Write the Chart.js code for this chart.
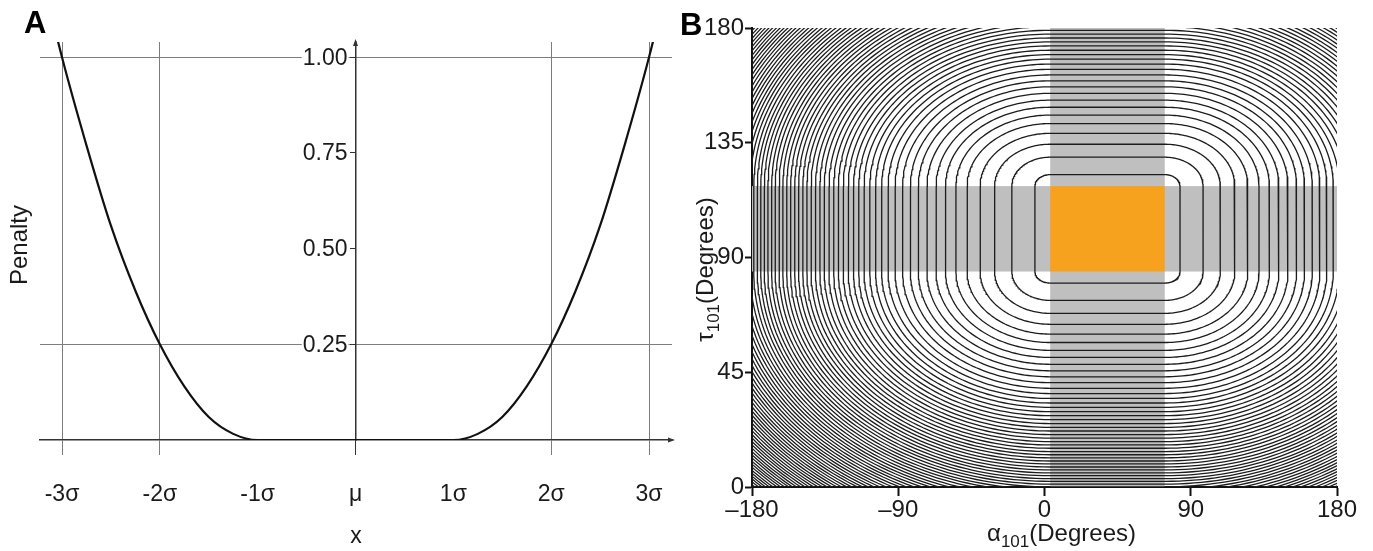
<!DOCTYPE html>
<html>
<head>
<meta charset="utf-8">
<title>Flat-bottom restraint penalty</title>
<script src="https://cdn.jsdelivr.net/npm/chart.js@4.4.1/dist/chart.umd.min.js"></script>
<style>
  html, body { margin: 0; padding: 0; background: #fff; }
  #wrap { position: relative; width: 1373px; height: 551px; }
  .panel { position: absolute; top: 0; height: 551px; }
  #panelA { left: 0; width: 680px; }
  #panelB { left: 680px; width: 693px; }
</style>
</head>
<body>
<div id="wrap">
  <div class="panel" id="panelA"><canvas id="penaltyChart"></canvas></div>
  <div class="panel" id="panelB"><canvas id="contourChart"></canvas></div>
</div>
<script>
// --- panel A: penalty vs. deviation (x in units of sigma) ---
const penaltyX = [-3.2, -3.0, -2.75, -2.5, -2.25, -2.0, -1.75, -1.5, -1.25, -1.0,
                  1.0, 1.25, 1.5, 1.75, 2.0, 2.25, 2.5, 2.75, 3.0, 3.2];
const penaltyY = [1.21, 1.0, 0.77, 0.56, 0.39, 0.25, 0.14, 0.06, 0.016, 0,
                  0, 0.016, 0.06, 0.14, 0.25, 0.39, 0.56, 0.77, 1.0, 1.21];
const sigmaTicks = [-3, -2, -1, 0, 1, 2, 3];
const sigmaLabels = ['-3σ', '-2σ', '-1σ', 'μ', '1σ', '2σ', '3σ'];
const penaltyTicks = [0.25, 0.5, 0.75, 1.0];
const penaltyLabels = ['0.25', '0.50', '0.75', '1.00'];

// --- panel B: alpha/tau restraint energy contours ---
const alphaTicks = [-180, -90, 0, 90, 180];
const alphaLabels = ['–180', '–90', '0', '90', '180'];
const tauTicks = [0, 45, 90, 135, 180];
const boxAlpha = [3.5, 74];      // allowed alpha window (deg)
const boxTau = [84.5, 118];      // allowed tau window (deg)
// distance of each contour from the window edge along alpha (deg), innermost first;
// the ones past 183 only show up in the corners of the plot
const contourAlphaOffset = [9.4, 23.6, 34.2, 43.1, 51.1, 58.0, 64.4, 70.2, 75.8, 81.1,
  86.0, 90.8, 95.4, 99.7, 103.7, 107.4, 111.0, 114.5, 117.8, 121.0,
  124.2, 127.3, 130.3, 133.2, 136.1, 139.0, 141.7, 144.4, 147.1, 149.7,
  152.2, 154.8, 157.2, 159.7, 162.1, 164.5, 166.8, 169.2, 171.4, 173.7,
  175.9, 178.1, 180.2, 182.4, 184.6, 186.7, 188.8, 190.8, 192.9, 194.9,
  196.9, 198.9, 200.9, 202.9, 204.8, 206.7, 208.6, 210.5, 212.3, 214.2,
  216.0, 217.8, 219.6, 221.4, 223.2, 224.9, 226.7, 228.4, 230.1, 231.8,
  233.5, 235.2, 236.9, 238.5, 240.2, 241.8, 243.4, 245.1, 246.7, 248.3,
  249.8, 251.4, 253.0, 254.5];
const tauPerAlpha = 0.48;        // tau distance per degree of alpha distance on one contour

const FONT = '"Liberation Sans", Arial, Helvetica, sans-serif';
const textColor = '#1a1a1a';
const gridGray = '#7d7d7d';
const axisDark = '#333';
const clear = 'rgba(0,0,0,0)';
Chart.defaults.font.family = FONT;
Chart.defaults.color = textColor;

// arrow heads on the two axes of panel A, the penalty labels left of the
// centred axis (white box behind each so the grid line stops at the text)
// and the y title
const centredAxisDecor = {
  id: 'centredAxisDecor',
  afterDraw(chart) {
    const {ctx, chartArea: ca, scales} = chart;
    const x0 = scales.x.getPixelForValue(0);
    ctx.save();
    ctx.fillStyle = axisDark;
    ctx.beginPath();
    ctx.moveTo(x0, ca.top - 3);
    ctx.lineTo(x0 - 2.5, ca.top + 4);
    ctx.lineTo(x0 + 2.5, ca.top + 4);
    ctx.closePath();
    ctx.fill();
    ctx.beginPath();
    ctx.moveTo(ca.right + 3, ca.bottom);
    ctx.lineTo(ca.right - 4, ca.bottom - 2.5);
    ctx.lineTo(ca.right - 4, ca.bottom + 2.5);
    ctx.closePath();
    ctx.fill();

    ctx.font = '23px ' + FONT;
    ctx.textAlign = 'right';
    ctx.textBaseline = 'middle';
    penaltyTicks.forEach((v, i) => {
      const y = scales.y.getPixelForValue(v);
      const xr = x0 - 8;
      const w = ctx.measureText(penaltyLabels[i]).width;
      ctx.fillStyle = '#fff';
      ctx.fillRect(xr - w - 1, y - 9, w + 2, 18);
      ctx.fillStyle = textColor;
      ctx.fillText(penaltyLabels[i], xr, y + 1);
    });

    ctx.font = '24px ' + FONT;
    ctx.textAlign = 'center';
    ctx.translate(20, (ca.top + ca.bottom) / 2 + 4);
    ctx.rotate(-Math.PI / 2);
    ctx.fillText('Penalty', 0, 0);
    ctx.restore();
  }
};

function panelLetter(letter, x, y) {
  return {
    id: 'letter' + letter,
    afterDraw(chart) {
      const ctx = chart.ctx;
      ctx.save();
      ctx.font = 'bold 31px ' + FONT;
      ctx.fillStyle = '#000';
      ctx.textBaseline = 'alphabetic';
      ctx.fillText(letter, x, y);
      ctx.restore();
    }
  };
}

new Chart(document.getElementById('penaltyChart'), {
  type: 'scatter',
  data: {
    datasets: [{
      data: penaltyX.map((x, i) => ({x, y: penaltyY[i]})),
      showLine: true,
      borderColor: '#111',
      borderWidth: 2.2,
      pointRadius: 0,
      pointHoverRadius: 0,
      cubicInterpolationMode: 'monotone'
    }]
  },
  options: {
    animation: false,
    responsive: true,
    maintainAspectRatio: false,
    events: [],
    layout: {padding: {top: 42, right: 8, left: 40, bottom: 0}},
    plugins: {legend: {display: false}, tooltip: {enabled: false}},
    scales: {
      x: {
        type: 'linear',
        position: 'bottom',
        min: -3.225,
        max: 3.235,
        afterBuildTicks: s => { s.ticks = sigmaTicks.map(v => ({value: v})); },
        afterFit: s => { s.height = 111; s.paddingLeft = 0; s.paddingRight = 0; },
        grid: {
          color: c => ([-1, 0, 1].includes(c.tick && c.tick.value) ? clear : gridGray),
          tickColor: c => {
            const v = c.tick && c.tick.value;
            if (v === 0) return axisDark;
            return (v === -1 || v === 1) ? clear : gridGray;
          },
          tickLength: 15,
          lineWidth: 1
        },
        border: {color: axisDark, width: 1.5},
        ticks: {
          callback: v => sigmaLabels[sigmaTicks.indexOf(v)],
          font: {size: 23},
          padding: 26,
          maxRotation: 0,
          autoSkip: false
        },
        title: {display: true, text: 'x', font: {size: 23}, padding: {top: 0, bottom: 1}}
      },
      y: {
        type: 'linear',
        position: {x: 0},
        min: 0,
        max: 1.04,
        afterBuildTicks: s => { s.ticks = penaltyTicks.map(v => ({value: v})); },
        afterFit: s => { s.width = 0; },
        grid: {
          color: c => ([0.25, 1].includes(c.tick && c.tick.value) ? gridGray : clear),
          tickColor: axisDark,
          tickLength: 5,
          lineWidth: 1
        },
        border: {color: axisDark, width: 1.5},
        ticks: {display: false}
      }
    }
  },
  plugins: [centredAxisDecor, panelLetter('A', 24, 33)]
});

// one closed contour: the window grown by da in alpha and dt in tau,
// straight along the bands and quarter-ellipses round the corners
const ARC_STEPS = 60;
function contourPoints(da, dt) {
  const [a0, a1] = boxAlpha;
  const [t0, t1] = boxTau;
  const corners = [
    [a0, t1, Math.PI, Math.PI / 2],
    [a1, t1, Math.PI / 2, 0],
    [a1, t0, 0, -Math.PI / 2],
    [a0, t0, -Math.PI / 2, -Math.PI]
  ];
  const pts = [];
  corners.forEach(([ca, ct, s, e]) => {
    for (let i = 0; i <= ARC_STEPS; i++) {
      const th = s + (e - s) * i / ARC_STEPS;
      pts.push({x: ca + da * Math.cos(th), y: ct + dt * Math.sin(th)});
    }
  });
  pts.push(pts[0]);
  return pts;
}

// grey bands for the allowed windows and the orange box where both hold
const windowBands = {
  id: 'windowBands',
  beforeDatasetsDraw(chart) {
    const {ctx, chartArea: ca, scales: {x, y}} = chart;
    const ax0 = x.getPixelForValue(boxAlpha[0]);
    const ax1 = x.getPixelForValue(boxAlpha[1]);
    const ty0 = y.getPixelForValue(boxTau[0]);
    const ty1 = y.getPixelForValue(boxTau[1]);
    ctx.save();
    ctx.fillStyle = '#bfbfbf';
    ctx.fillRect(ax0, ca.top, ax1 - ax0, ca.bottom - ca.top);
    ctx.fillRect(ca.left, ty1, ca.right - ca.left, ty0 - ty1);
    ctx.fillStyle = '#f6a21e';
    ctx.fillRect(ax0, ty1, ax1 - ax0, ty0 - ty1);
    ctx.restore();
  }
};

// axis titles with the residue number as a subscript
function drawSubscripted(ctx, symbol, sub, rest, cx, baseline) {
  const main = '24px ' + FONT;
  const small = '17px ' + FONT;
  ctx.font = main;
  const w1 = ctx.measureText(symbol).width;
  const w3 = ctx.measureText(rest).width;
  ctx.font = small;
  const w2 = ctx.measureText(sub).width;
  let x = cx - (w1 + w2 + w3) / 2;
  ctx.textAlign = 'left';
  ctx.textBaseline = 'alphabetic';
  ctx.font = main;
  ctx.fillText(symbol, x, baseline);
  x += w1;
  ctx.font = small;
  ctx.fillText(sub, x, baseline + 6);
  x += w2;
  ctx.font = main;
  ctx.fillText(rest, x, baseline);
}

const angleTitles = {
  id: 'angleTitles',
  afterDraw(chart) {
    const {ctx, chartArea: ca} = chart;
    ctx.save();
    ctx.fillStyle = textColor;
    drawSubscripted(ctx, 'α', '101', '(Degrees)', (ca.left + ca.right) / 2 + 17, 541);
    ctx.translate(33, (ca.top + ca.bottom) / 2 + 12);
    ctx.rotate(-Math.PI / 2);
    drawSubscripted(ctx, 'τ', '101', '(Degrees)', 0, 0);
    ctx.restore();
  }
};

new Chart(document.getElementById('contourChart'), {
  type: 'scatter',
  data: {
    datasets: contourAlphaOffset.map(da => ({
      data: contourPoints(da, da * tauPerAlpha),
      showLine: true,
      borderColor: '#1c1c1c',
      borderWidth: 1.3,
      pointRadius: 0,
      pointHoverRadius: 0,
      tension: 0
    }))
  },
  options: {
    animation: false,
    responsive: true,
    maintainAspectRatio: false,
    events: [],
    layout: {padding: {top: 28, right: 36, left: 0, bottom: 0}},
    plugins: {legend: {display: false}, tooltip: {enabled: false}},
    scales: {
      x: {
        type: 'linear',
        position: 'bottom',
        z: 1,
        min: -180,
        max: 180,
        afterBuildTicks: s => { s.ticks = alphaTicks.map(v => ({value: v})); },
        afterFit: s => { s.height = 64; },
        grid: {drawOnChartArea: false, tickLength: 9, tickWidth: 2, tickColor: '#111'},
        border: {color: '#111', width: 2},
        ticks: {
          callback: v => alphaLabels[alphaTicks.indexOf(v)],
          font: {size: 24},
          padding: 0,
          maxRotation: 0,
          autoSkip: false
        }
      },
      y: {
        type: 'linear',
        position: 'left',
        z: 1,
        min: 0,
        max: 180,
        afterBuildTicks: s => { s.ticks = tauTicks.map(v => ({value: v})); },
        afterFit: s => { s.width = 72; },
        grid: {drawOnChartArea: false, tickLength: 7, tickWidth: 2, tickColor: '#111'},
        border: {color: '#111', width: 2},
        ticks: {font: {size: 24}, padding: 1, autoSkip: false}
      }
    }
  },
  plugins: [windowBands, angleTitles, panelLetter('B', 0, 35)]
});
</script>
</body>
</html>
